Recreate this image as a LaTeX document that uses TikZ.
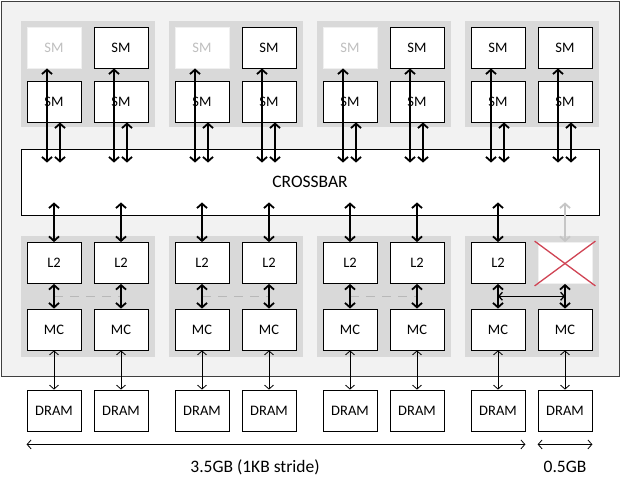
\documentclass[tikz,border=0pt]{standalone}
\usepackage{fontspec}
\setmainfont{Carlito}
\usepackage{xcolor}
\definecolor{ChipBg}{HTML}{F2F2F2}
\definecolor{ChipLine}{HTML}{404040}
\definecolor{BlockBg}{HTML}{D9D9D9}
\definecolor{FadedText}{HTML}{BFBFBF}
\definecolor{GhostLine}{HTML}{B8B8B8}
\definecolor{CrossRed}{HTML}{D04454}
\usepackage{tikz}
\usetikzlibrary{arrows.meta,calc}
\tikzset{
  chipbox/.style={
    draw=ChipLine,
    fill=ChipBg,
    line width=0.8pt,
    minimum width=618pt,
    minimum height=375pt,
    inner sep=0pt
  },
  blockbg/.style={
    fill=BlockBg,
    minimum width=134pt,
    inner sep=0pt
  },
  unitbox/.style={
    draw=black,
    fill=white,
    line width=0.8pt,
    minimum width=54pt,
    minimum height=41pt,
    inner sep=0pt,
    font=\fontsize{14.5pt}{17pt}\selectfont
  },
  unitoff/.style={
    unitbox,
    draw=black!6,
    text=FadedText
  },
  xbarbox/.style={
    draw=black,
    fill=white,
    line width=0.8pt,
    minimum width=578pt,
    minimum height=66pt,
    font=\fontsize{17.5pt}{21pt}\selectfont
  },
  sizelabel/.style={
    font=\fontsize{17.5pt}{21pt}\selectfont,
    inner sep=0pt
  },
  busline/.style={
    line width=1.8pt,
    {Straight Barb[length=4.5pt,width=10pt]}-{Straight Barb[length=4.5pt,width=10pt]}
  },
  busghost/.style={
    busline,
    draw=GhostLine!80
  },
  linkline/.style={
    line width=1.3pt,
    {Straight Barb[length=3.5pt,width=8pt]}-{Straight Barb[length=3.5pt,width=8pt]}
  },
  dramline/.style={
    line width=0.8pt,
    {Straight Barb[length=4pt,width=9pt]}-{Straight Barb[length=4pt,width=9pt]}
  },
  stripeline/.style={
    draw=GhostLine,
    line width=1.3pt,
    dash pattern=on 9pt off 7pt
  },
  deadmark/.style={
    draw=CrossRed,
    line width=1.3pt
  }
}

\begin{document}
\begin{tikzpicture}[x=1pt,y=-1pt]
  \useasboundingbox (0,0) rectangle (620,479);
  \node[chipbox] (chip) at (310,188.5) {};
  \foreach \g in {0,...,3}{
    \node[blockbg, minimum height=106pt] (gpc\g) at ({87.5+148*\g},74) {};
    \node[blockbg, minimum height=121pt] (fbp\g) at ({87.5+148*\g},296.5) {};
  }
  \foreach \i/\x/\s in {1/54/unitoff,2/121/unitbox,3/202/unitoff,4/269/unitbox,5/350/unitoff,6/417/unitbox,7/498/unitbox,8/565/unitbox}{
    \node[\s] (sa\i) at (\x,47.5) {SM};
    \node[unitbox] (sb\i) at (\x,101.5) {SM};
    \node[unitbox] (mc\i) at (\x,329.5) {MC};
    \node[unitbox] (dram\i) at (\x,410.5) {DRAM};
  }
  \foreach \i/\x in {1/54,2/121,3/202,4/269,5/350,6/417,7/498}{
    \node[unitbox] (l\i) at (\x,263) {L2};
  }
  \node[unitbox, draw=black!6] (l8) at (565,263) {};
  \draw[deadmark] ([xshift=-3pt,yshift=1pt]l8.north west) -- ([xshift=3pt,yshift=-2pt]l8.south east);
  \draw[deadmark] ([xshift=3pt,yshift=1pt]l8.north east) -- ([xshift=-3pt,yshift=-2pt]l8.south west);
  \node[xbarbox] (xbar) at (310,182) {CROSSBAR};
  \coordinate (xin) at ([yshift=-14pt]xbar.north);
  \coordinate (xout) at ([yshift=13pt]xbar.south);
  \foreach \a/\b in {1/2,3/4,5/6}{
    \draw[stripeline] ($(l\a.south)!.5!(mc\a.north)$) -- ($(l\b.south)!.5!(mc\b.north)$);
  }
  \draw[linkline] ($(l7.south)!.5!(mc7.north)$) -- ($(l8.south)!.5!(mc8.north)$);
  \foreach \i in {1,...,8}{
    \draw[busline] ($(sa\i.south)+(-7,0)$) -- ($(sa\i.south |- xin)+(-7,0)$);
    \draw[busline] ($(sb\i.south)+(6,0)$) -- ($(sb\i.south |- xin)+(6,0)$);
    \draw[busline] (l\i) -- (mc\i);
    \draw[dramline] (mc\i) -- (dram\i);
  }
  \foreach \i in {1,...,7}{\draw[busline] (l\i.north |- xout) -- (l\i.north);}
  \draw[busghost] (l8.north |- xout) -- (l8.north);
  \draw[dramline] ($(dram1.south west)+(0,13)$) -- ($(dram7.south east)+(0,13)$);
  \draw[dramline] ($(dram8.south west)+(0,13)$) -- ($(dram8.south east)+(0,13)$);
  \node[sizelabel] (bigsize) at (255,467) {3.5GB (1KB stride)};
  \node[sizelabel] (smallsize) at (565,467) {0.5GB};
\end{tikzpicture}
\end{document}
